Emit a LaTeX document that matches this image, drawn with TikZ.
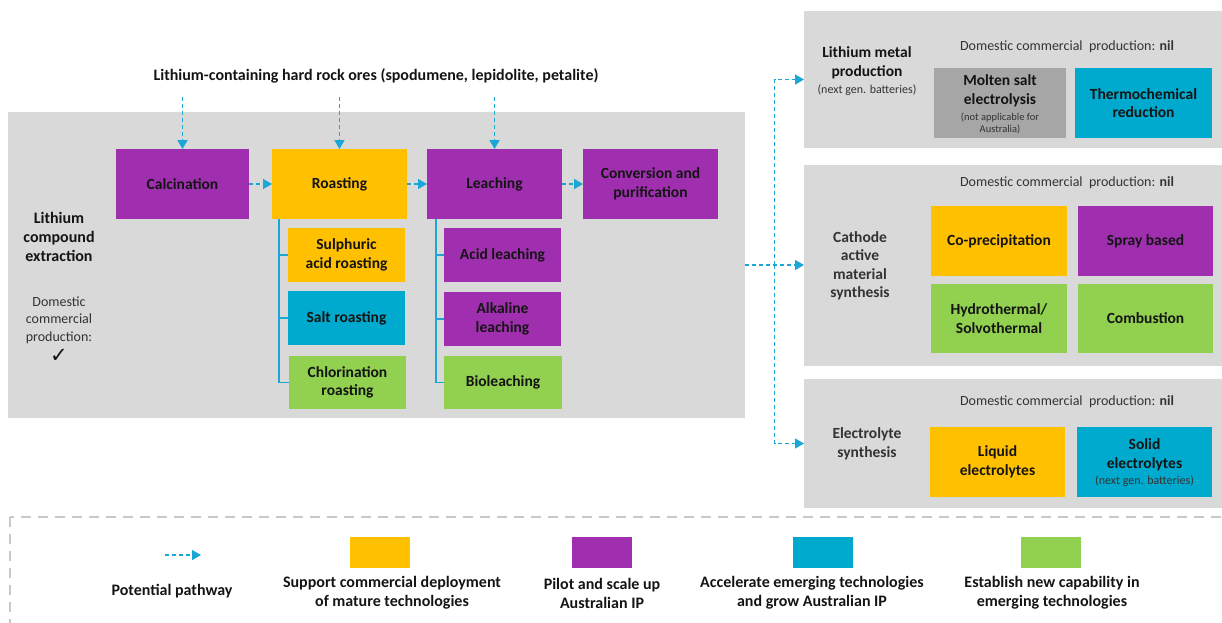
\documentclass[tikz,border=0pt]{standalone}
\usepackage{fontspec}
\setmainfont{Carlito}
\newfontfamily\symfont{DejaVu Sans}
\usetikzlibrary{arrows.meta,calc}

\definecolor{purp}{HTML}{A02FB0}
\definecolor{gold}{HTML}{FFC000}
\definecolor{techblue}{HTML}{00A9CE}
\definecolor{leaf}{HTML}{92D050}
\definecolor{panelgrey}{HTML}{D9D9D9}
\definecolor{greybox}{HTML}{A6A6A6}
\definecolor{flowc}{HTML}{1AA7D6}
\definecolor{ink}{HTML}{141414}
\definecolor{subink}{HTML}{333333}
\definecolor{legendline}{HTML}{C8C8C8}

\newcommand\boxfont{\fontsize{15.5}{18.5}\selectfont\bfseries}
\newcommand\headfont{\fontsize{16}{19}\selectfont\bfseries}
\newcommand\notefont{\fontsize{14}{17.5}\selectfont}
\newcommand\smallnote{\fontsize{12}{14}\selectfont\mdseries}
\newcommand\tinynote{\fontsize{10.5}{12}\selectfont\mdseries}

\tikzset{
  every node/.style={inner sep=0pt, outer sep=0pt, align=center, text=ink},
  panelbox/.style={fill=panelgrey, draw=none, anchor=north west},
  tile/.style={rectangle, draw=none, font=\boxfont},
  flow/.style={draw=flowc, line width=1.4pt, dash pattern=on 4pt off 3pt,
    -{Triangle[length=9pt,width=10pt]}},
  bracket/.style={draw=flowc, line width=1.1pt},
  subhead/.style={font=\notefont, text=subink},
  legendtext/.style={font=\fontsize{16}{19}\selectfont\bfseries, text=ink},
  swatch/.style={minimum width=60pt, minimum height=31pt, draw=none}
}

\begin{document}
\begin{tikzpicture}[x=1pt, y=-1pt]
\useasboundingbox (0,0) rectangle (1222,622);
\clip (0,0) rectangle (1222,622);

% ---------- lithium compound extraction ----------
\node[panelbox, minimum width=737pt, minimum height=306pt] (extr) at (8,112) {};

\node[font=\fontsize{16}{19}\selectfont\bfseries] (ores) at (376,76)
  {Lithium-containing hard rock ores (spodumene, lepidolite, petalite)};

\node[font=\headfont] (extrlabel) at (59,237) {Lithium\\compound\\extraction};
\node[subhead] (extrdom) at (59,320) {Domestic\\commercial\\production:};
\node[font=\symfont\fontsize{21}{21}\selectfont] (extrcheck) at (59,356) {✓};

\node[tile, fill=purp, minimum width=133pt, minimum height=70pt] (calc) at (182.5,184) {Calcination};
\node[tile, fill=gold, minimum width=135pt, minimum height=70pt] (roast) at (339.5,184) {Roasting};
\node[tile, fill=purp, minimum width=135pt, minimum height=70pt] (leach) at (494.5,184) {Leaching};
\node[tile, fill=purp, minimum width=135pt, minimum height=70pt] (conv) at (650.5,184) {Conversion and\\purification};

\node[tile, fill=gold, minimum width=117pt, minimum height=54pt] (sulph) at (346.5,255) {Sulphuric\\acid roasting};
\node[tile, fill=techblue, minimum width=117pt, minimum height=54pt] (salt) at (346.5,318) {Salt roasting};
\node[tile, fill=leaf, minimum width=117pt, minimum height=53pt] (chlor) at (347.5,382.5) {Chlorination\\roasting};

\node[tile, fill=purp, minimum width=117pt, minimum height=54pt] (acid) at (502.5,255) {Acid leaching};
\node[tile, fill=purp, minimum width=117pt, minimum height=54pt] (alk) at (502.5,319) {Alkaline\\leaching};
\node[tile, fill=leaf, minimum width=118pt, minimum height=53pt] (bio) at (503,382.5) {Bioleaching};

% ore feeds
\coordinate (feedA) at (182.5,97);
\coordinate (feedB) at (339.5,97);
\coordinate (feedC) at (494.5,97);
\draw[flow] (feedA) -- (calc.north);
\draw[flow] (feedB) -- (roast.north);
\draw[flow] (feedC) -- (leach.north);

% process chain
\draw[flow] (calc.east) -- (roast.west);
\draw[flow] (roast.east) -- (leach.west);
\draw[flow] (leach.east) -- (conv.west);

% sub-process brackets
\draw[bracket] ([xshift=7pt]roast.south west) |- (sulph.west);
\draw[bracket] ([xshift=7pt]roast.south west) |- (salt.west);
\draw[bracket] ([xshift=7pt]roast.south west) |- (chlor.west);
\draw[bracket] ([xshift=9pt]leach.south west) |- (acid.west);
\draw[bracket] ([xshift=9pt]leach.south west) |- (alk.west);
\draw[bracket] ([xshift=9pt]leach.south west) |- (bio.west);

% ---------- lithium metal production ----------
\node[panelbox, minimum width=420pt, minimum height=137pt] (metal) at (804,11) {};
\node[font=\boxfont] (metallabel) at (867,63) {Lithium metal\\production};
\node[font=\smallnote, text=subink] (metalnote) at (867,90) {(next gen. batteries)};
\node[subhead] (metaldom) at (1067,47) {Domestic commercial\ \ production: \textbf{nil}};
\node[tile, fill=greybox, minimum width=132pt, minimum height=70pt] (molten) at (1000,103) {};
\node[font=\boxfont] (moltentext) at (1000,91) {Molten salt\\electrolysis};
\node[font=\tinynote, text=subink] (moltennote) at (1000,123) {(not applicable for\\Australia)};
\node[tile, fill=techblue, minimum width=137pt, minimum height=70pt] (thermo) at (1143.5,103)
  {Thermochemical\\reduction};

% ---------- cathode active material synthesis ----------
\node[panelbox, minimum width=420pt, minimum height=201pt] (cathode) at (804,165) {};
\node[font=\boxfont, text=subink] (cathlabel) at (860,266) {Cathode\\active\\material\\synthesis};
\node[subhead] (cathdom) at (1067,183) {Domestic commercial\ \ production: \textbf{nil}};
\node[tile, fill=gold, minimum width=136pt, minimum height=70pt] (coprec) at (999,241) {Co-precipitation};
\node[tile, fill=purp, minimum width=135pt, minimum height=70pt] (spray) at (1145.5,241) {Spray based};
\node[tile, fill=leaf, minimum width=136pt, minimum height=69pt] (hydro) at (999,318.5) {Hydrothermal/\\Solvothermal};
\node[tile, fill=leaf, minimum width=135pt, minimum height=69pt] (comb) at (1145.5,318.5) {Combustion};

% ---------- electrolyte synthesis ----------
\node[panelbox, minimum width=420pt, minimum height=129pt] (electro) at (804,379) {};
\node[font=\boxfont, text=subink] (electrolabel) at (867,444) {Electrolyte\\synthesis};
\node[subhead] (electrodom) at (1067,402) {Domestic commercial\ \ production: \textbf{nil}};
\node[tile, fill=gold, minimum width=135pt, minimum height=70pt] (liquid) at (997.5,462) {Liquid\\electrolytes};
\node[tile, fill=techblue, minimum width=135pt, minimum height=70pt] (solid) at (1144.5,462) {};
\node[font=\boxfont] (solidtext) at (1144.5,455) {Solid\\electrolytes};
\node[font=\smallnote, text=subink] (solidnote) at (1144.5,481) {(next gen. batteries)};

% ---------- pathways to downstream products ----------
\coordinate (junction) at ($(extr.east)!0.5!(extr.east -| cathode.west)$);
\draw[flow] (extr.east) -- (extr.east -| cathode.west);
\draw[flow] (junction) |- (metal.west);
\draw[flow] (junction) |- (electro.west);

% ---------- legend ----------
\draw[legendline, line width=2.5pt, dash pattern=on 10pt off 7pt] (10,517) rectangle (1260,680);

\coordinate (legA) at (165,555);
\coordinate (legB) at (201,555);
\draw[flow] (legA) -- (legB);
\node[legendtext] (legflow) at (172,591) {Potential pathway};

\node[swatch, fill=gold] (swgold) at (380,552) {};
\node[swatch, fill=purp] (swpurp) at (601.5,552) {};
\node[swatch, fill=techblue] (swblue) at (823,552) {};
\node[swatch, fill=leaf] (swleaf) at (1051,552) {};

\node[legendtext] (txgold) at (392,593) {Support commercial deployment\\of mature technologies};
\node[legendtext] (txpurp) at (602,593) {Pilot and scale up\\Australian IP};
\node[legendtext] (txblue) at (812,593) {Accelerate emerging technologies\\and grow Australian IP};
\node[legendtext] (txleaf) at (1052,593) {Establish new capability in\\emerging technologies};
\end{tikzpicture}
\end{document}
